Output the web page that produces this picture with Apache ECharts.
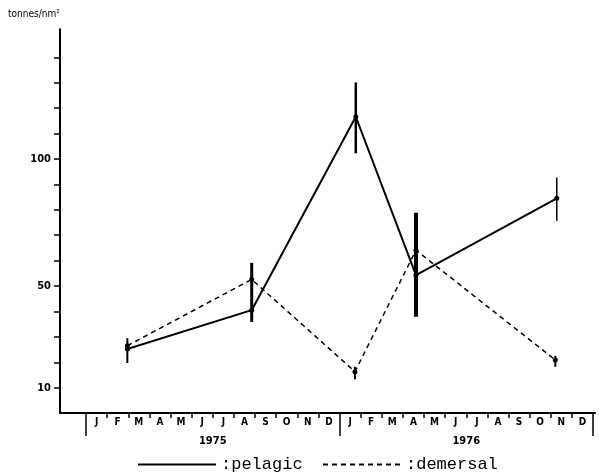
<!DOCTYPE html>
<html>
<head>
<meta charset="utf-8">
<title>pelagic / demersal</title>
<script src="https://cdn.jsdelivr.net/npm/echarts@6/dist/echarts.min.js"></script>
<style>
	html, body { margin: 0; padding: 0; background: #fff; }
	#main { width: 599px; height: 474px; }
</style>
</head>
<body>
<div id="main"></div>
<script>
// 月份 / 年份 刻度
var monthLabels = ['J','F','M','A','M','J','J','A','S','O','N','D','J','F','M','A','M','J','J','A','S','O','N','D'];
var yearLabels = ['1975','1976'];
var yTicks = [10,20,30,40,50,60,70,80,90,100,110,120,130,140];
var yLabels = [10,50,100];

// x = months since Jan 1975
var pelagicMonth = [1.96, 7.85, 12.78, 15.63, 22.30];
var pelagicValue = [25.2, 40.5, 116.6, 54.3, 84.5];
var pelagicLow = [19.7, 35.9, 102.2, 37.9, 75.7];
var pelagicHigh = [29.5, 59.1, 130.1, 78.8, 92.7];

var demersalMonth = [1.96, 7.85, 12.74, 15.63, 22.23];
var demersalValue = [26.5, 52.6, 16.3, 64.1, 20.9];
var demersalLow = [null, null, 13.3, null, 18.2];
var demersalHigh = [null, null, 18.2, null, 22.5];

var narrowFont = "'Liberation Sans Narrow','DejaVu Sans Condensed',sans-serif";
var monoFont = "'Liberation Mono','DejaVu Sans Mono',monospace";

function pairs(xs, ys){
	var out = [];
	for (var i = 0; i < xs.length; i++) {
		out.push([xs[i], ys[i]]);
	}
	return out;
}

function barData(xs, ys, lo, hi){
	var out = [];
	for (var i = 0; i < xs.length; i++) {
		out.push([xs[i], lo[i] == null ? '-' : lo[i], hi[i] == null ? '-' : hi[i], ys[i]]);
	}
	return out;
}

function errorBars(widths){
	return function(params, api){
		var x = api.value(0);
		var pt = api.coord([x, api.value(3)]);
		var children = [];
		var lo = api.value(1), hi = api.value(2);
		if (!isNaN(lo) && !isNaN(hi)) {
			var a = api.coord([x, lo]);
			var b = api.coord([x, hi]);
			children.push({
				type: 'line',
				shape: { x1: a[0], y1: a[1], x2: b[0], y2: b[1] },
				style: { stroke: '#000', lineWidth: widths[params.dataIndex] }
			});
		}
		children.push({
			type: 'circle',
			shape: { cx: pt[0], cy: pt[1], r: 2.5 },
			style: { fill: '#000' }
		});
		return { type: 'group', children: children };
	};
}

function legendFor(name, left){
	return {
		data: [name],
		left: left,
		top: 456,
		padding: 0,
		itemWidth: 78,
		itemHeight: 2,
		itemStyle: { opacity: 0 },
		selectedMode: false,
		formatter: ':{name}',
		textStyle: { fontFamily: monoFont, fontSize: 17, color: '#000' }
	};
}

var myChart = echarts.init(document.getElementById('main'));
var option = {
	backgroundColor: '#fff',
	animation: false,
	title: {
		text: 'tonnes/nm²',
		left: 3,
		top: 4,
		textStyle: { fontFamily: narrowFont, fontSize: 10, fontWeight: 'normal', color: '#000' }
	},
	legend: [
		legendFor('pelagic', 137),
		legendFor('demersal', 322)
	],
	grid: [
		{ left: 60, right: 4, top: 29.3, bottom: 60.9 },
		{ left: 86, right: 6, top: 413, height: 1 }
	],
	xAxis: [
		{
			type: 'value',
			gridIndex: 0,
			min: -1.23,
			max: 24.11,
			axisLine: { show: true, onZero: false, lineStyle: { color: '#000', width: 2 } },
			axisTick: { show: false },
			axisLabel: { show: false },
			splitLine: { show: false }
		},
		{
			type: 'category',
			gridIndex: 1,
			position: 'bottom',
			data: monthLabels,
			axisLine: { show: false },
			axisTick: { show: true, length: 4, lineStyle: { color: '#000', width: 1.5 } },
			axisLabel: { interval: 0, margin: 3, fontFamily: narrowFont, fontSize: 10, fontWeight: 'bold', color: '#000' }
		},
		{
			type: 'category',
			gridIndex: 1,
			position: 'bottom',
			data: yearLabels,
			axisLine: { show: false },
			axisTick: { show: true, length: 22, lineStyle: { color: '#000', width: 1.5 } },
			axisLabel: { interval: 0, margin: 22, fontFamily: narrowFont, fontSize: 11, fontWeight: 'bold', color: '#000' }
		}
	],
	yAxis: [
		{
			type: 'value',
			gridIndex: 0,
			min: 0,
			max: 151,
			axisLine: { show: true, onZero: false, lineStyle: { color: '#000', width: 2 } },
			axisTick: { show: true, length: 6, customValues: yTicks, lineStyle: { color: '#000', width: 1.5 } },
			axisLabel: { customValues: yLabels, margin: 9, fontFamily: narrowFont, fontSize: 11, fontWeight: 'bold', color: '#000' },
			splitLine: { show: false }
		},
		{
			type: 'value',
			gridIndex: 1,
			show: false
		}
	],
	series: [
		{
			name: 'pelagic',
			type: 'line',
			xAxisIndex: 0,
			yAxisIndex: 0,
			symbol: 'none',
			data: pairs(pelagicMonth, pelagicValue),
			lineStyle: { color: '#000', width: 2 },
			itemStyle: { color: '#000' }
		},
		{
			name: 'demersal',
			type: 'line',
			xAxisIndex: 0,
			yAxisIndex: 0,
			symbol: 'none',
			data: pairs(demersalMonth, demersalValue),
			lineStyle: { color: '#000', width: 1.5, type: [5, 4] },
			itemStyle: { color: '#000' }
		},
		{
			name: 'pelagic range',
			type: 'custom',
			xAxisIndex: 0,
			yAxisIndex: 0,
			data: barData(pelagicMonth, pelagicValue, pelagicLow, pelagicHigh),
			renderItem: errorBars([2, 3, 2.5, 4, 1.5]),
			z: 3
		},
		{
			name: 'demersal range',
			type: 'custom',
			xAxisIndex: 0,
			yAxisIndex: 0,
			data: barData(demersalMonth, demersalValue, demersalLow, demersalHigh),
			renderItem: errorBars([2, 2, 2, 2, 2]),
			z: 3
		}
	]
};
// 使用刚指定的配置项和数据显示图表。
myChart.setOption(option);
</script>
</body>
</html>
